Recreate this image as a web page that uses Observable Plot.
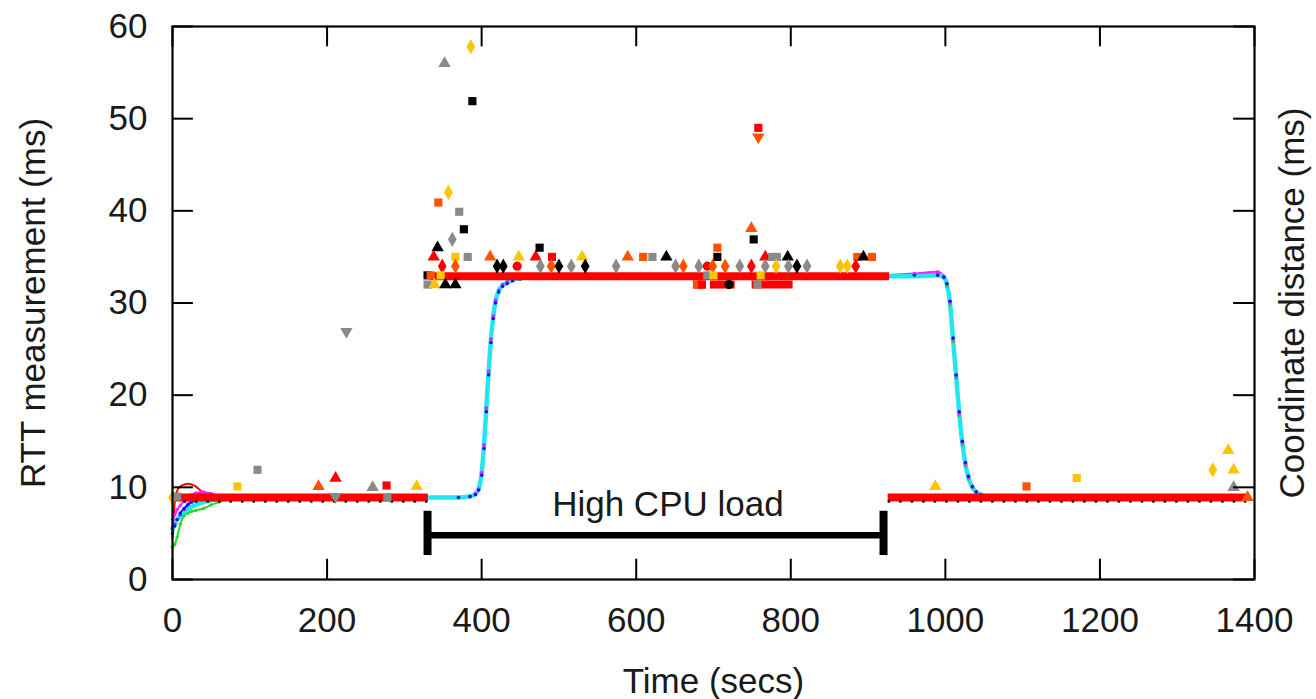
<!DOCTYPE html>
<html><head><meta charset="utf-8">
<script src="https://cdn.jsdelivr.net/npm/d3@7"></script>
<script src="https://cdn.jsdelivr.net/npm/@observablehq/plot@0.6"></script>
<style>body{margin:0;background:#fff} #chart svg{display:block}</style>
</head><body><div id="chart"></div>
<script>
// ---- axes ----
const xTicks = [0, 200, 400, 600, 800, 1000, 1200, 1400];
const yTicks = [0, 10, 20, 30, 40, 50, 60];
const xLabel = "Time (secs)";
const yLabel = "RTT measurement (ms)";
const y2Label = "Coordinate distance (ms)";

// ---- coordinate distance curves (per node) ----
const coordTime = [0, 3, 6, 10, 15, 20, 25, 30, 40, 50, 60, 80, 120, 200, 300, 370, 385, 392, 396, 400, 403, 406, 409, 412, 415, 418, 422, 427, 433, 440, 450, 470, 500, 600, 700, 800, 900, 960, 990, 998, 1002, 1006, 1010, 1014, 1018, 1022, 1026, 1030, 1035, 1040, 1046, 1052];
const coordRed     = [4.5, 8.5, 9.6, 10.1, 10.3, 10.4, 10.3, 10.1, 9.4, 9.1, 9.0, 9.0, 8.95, 8.9, 8.9, 8.9, 9.0, 9.3, 9.8, 11.5, 14.5, 18.5, 22.5, 26.0, 28.5, 30.2, 31.3, 31.9, 32.2, 32.5, 32.7, 32.8, 32.9, 33.0, 33.0, 33.0, 33.0, 33.0, 33.0, 32.8, 32.0, 30.0, 26.0, 22.0, 18.0, 14.8, 12.5, 11.0, 10.0, 9.5, 9.2, 9.0];
const coordGreen   = [3.5, 3.8, 4.6, 6.0, 6.9, 7.2, 7.4, 7.5, 7.7, 8.1, 8.4, 8.8, 8.9, 8.9, 8.9, 8.9, 9.0, 9.3, 9.8, 11.4, 14.3, 18.3, 22.3, 25.8, 28.4, 30.1, 31.2, 31.9, 32.2, 32.5, 32.7, 32.8, 32.9, 33.0, 33.0, 33.0, 33.0, 33.0, 33.0, 32.7, 31.8, 29.8, 25.8, 21.8, 17.8, 14.6, 12.3, 10.9, 9.9, 9.4, 9.1, 9.0];
const coordPurple  = [5.5, 6.0, 6.5, 7.0, 7.6, 8.2, 8.7, 9.1, 9.4, 9.3, 9.1, 9.0, 8.95, 8.9, 8.9, 8.9, 9.0, 9.3, 9.8, 11.6, 14.6, 18.6, 22.6, 26.1, 28.6, 30.3, 31.4, 32.0, 32.3, 32.6, 32.8, 32.9, 33.0, 33.0, 33.1, 33.0, 33.0, 33.1, 33.2, 32.9, 32.1, 30.1, 26.1, 22.1, 18.1, 14.9, 12.6, 11.1, 10.1, 9.5, 9.2, 9.0];
const coordMagenta = [6.5, 7.0, 7.6, 8.0, 8.5, 8.9, 9.2, 9.4, 9.5, 9.3, 9.1, 9.0, 8.95, 8.9, 8.9, 8.9, 9.0, 9.3, 9.8, 11.5, 14.5, 18.5, 22.5, 26.0, 28.5, 30.2, 31.3, 31.9, 32.2, 32.5, 32.7, 32.8, 32.9, 33.0, 33.0, 33.1, 33.0, 33.2, 33.4, 32.9, 32.0, 30.0, 26.0, 22.0, 18.0, 14.8, 12.5, 11.0, 10.0, 9.5, 9.2, 9.0];
const coordBlue    = [5.0, 5.8, 6.5, 7.2, 7.7, 8.1, 8.4, 8.6, 8.8, 8.9, 8.9, 8.9, 8.9, 8.9, 8.9, 8.9, 9.0, 9.2, 9.7, 11.3, 14.2, 18.2, 22.2, 25.7, 28.3, 30.0, 31.2, 31.8, 32.1, 32.4, 32.6, 32.8, 32.9, 33.0, 33.0, 33.0, 33.0, 33.0, 33.0, 32.8, 32.1, 30.2, 26.2, 22.2, 18.2, 15.0, 12.7, 11.2, 10.1, 9.5, 9.2, 9.0];
const coordCyan    = [5.5, 6.0, 6.5, 6.8, 7.2, 7.6, 7.9, 8.1, 8.4, 8.6, 8.7, 8.85, 8.9, 8.9, 8.9, 8.9, 9.0, 9.3, 9.8, 11.5, 14.5, 18.5, 22.5, 26.0, 28.5, 30.2, 31.3, 31.9, 32.2, 32.5, 32.7, 32.8, 32.8, 32.8, 32.8, 32.8, 32.9, 32.9, 33.0, 32.8, 32.0, 30.0, 26.0, 22.0, 18.0, 14.8, 12.5, 11.0, 10.0, 9.5, 9.2, 9.0];

// ---- RTT measurements: dense runs of samples (start, end, level) ----
const rttRunStart = [0, 335, 926, 674, 696, 750];
const rttRunEnd   = [331, 928, 1390, 690, 728, 803];
const rttRunLevel = [8.9, 32.9, 8.9, 32.0, 32.0, 32.0];
const rttLowStart = [0, 926];
const rttLowEnd   = [331, 1390];
const rttLowLevel = [8.45, 8.45];

// ---- RTT outlier samples ----
const outT = [386, 352, 388, 357, 344, 371, 377, 362, 343, 338, 366, 382, 411, 448, 470, 475, 491, 530, 349, 366, 420, 428, 446, 476, 490, 500, 516, 534, 330, 334, 347, 330, 339, 353, 366, 225,
  589, 609, 621, 639, 705, 705, 758, 758, 749, 752, 767, 776, 782, 796, 886, 894, 905,
  574, 651, 661, 681, 692, 699, 715, 734, 749, 767, 781, 797, 808, 821, 864, 873, 884,
  679, 685, 757, 761, 692, 700, 720,
  110, 84, 189, 211, 259, 277, 316, 0, 6, 211, 278,
  987, 1105, 1170, 1366, 1346, 1373, 1373, 1391];
const outV = [57.8, 56.0, 51.9, 42.0, 40.9, 39.9, 38.0, 36.9, 36.0, 35.0, 35.0, 35.0, 35.0, 35.0, 35.0, 36.0, 35.0, 35.0, 34.0, 34.0, 34.0, 34.0, 34.0, 34.0, 34.0, 34.0, 34.0, 34.0, 33.0, 33.0, 33.0, 32.0, 32.0, 32.0, 32.0, 26.9,
  35.0, 35.0, 35.0, 35.0, 36.0, 35.0, 49.0, 48.0, 38.1, 36.9, 35.0, 35.0, 35.0, 35.0, 35.0, 35.0, 35.0,
  34.0, 34.0, 34.0, 34.0, 34.0, 34.0, 34.0, 34.0, 34.0, 34.0, 34.0, 34.0, 34.0, 34.0, 34.0, 34.0, 34.0,
  32.0, 32.0, 32.0, 33.0, 33.0, 33.0, 32.0,
  11.9, 10.1, 10.1, 11.0, 10.0, 10.2, 10.1, 8.9, 9.0, 9.0, 8.9,
  10.1, 10.1, 11.0, 14.0, 11.9, 11.9, 10.0, 8.9];
const outNode = ["C", "D", "E", "C", "B", "D", "E", "D", "E", "A", "C", "D", "B", "C", "A", "E", "A", "C", "A", "B", "E", "E", "A", "D", "B", "E", "D", "E", "E", "B", "C", "D", "C", "E", "E", "D",
  "B", "B", "D", "E", "B", "E", "A", "B", "B", "E", "A", "D", "D", "E", "B", "E", "B",
  "D", "D", "B", "D", "A", "B", "B", "D", "A", "D", "C", "D", "E", "D", "C", "C", "A",
  "B", "A", "D", "C", "D", "C", "E",
  "D", "C", "B", "A", "D", "A", "C", "C", "D", "D", "D",
  "C", "B", "C", "C", "C", "C", "D", "B"];
const outKind = [3, 2, 1, 3, 1, 1, 1, 3, 2, 2, 1, 1, 2, 2, 2, 1, 1, 2, 3, 3, 3, 3, 4, 3, 3, 3, 3, 3, 1, 1, 1, 1, 2, 2, 2, 5,
  2, 1, 1, 2, 1, 1, 1, 5, 2, 1, 2, 1, 1, 2, 1, 2, 1,
  3, 3, 3, 3, 4, 3, 3, 3, 3, 3, 3, 3, 3, 3, 3, 3, 3,
  1, 1, 1, 1, 1, 1, 4,
  1, 1, 2, 2, 2, 1, 2, 3, 1, 5, 1,
  2, 1, 1, 2, 3, 2, 2, 2];

// ---- annotation ----
const cpuStart = 330, cpuEnd = 920, cpuLevel = 4.8, cpuCapLow = 2.6, cpuCapHigh = 7.4;
const cpuText = "High CPU load", cpuTextX = 641, cpuTextY = 8.1;

// ---- build tables ----
const coordSeries = [
  {name: "red", values: coordRed},
  {name: "green", values: coordGreen},
  {name: "purple", values: coordPurple},
  {name: "magenta", values: coordMagenta},
  {name: "blue", values: coordBlue},
  {name: "cyan", values: coordCyan}
];
const seriesColor = {red: "#ff0000", green: "#22dd22", purple: "#9a2bff", magenta: "#ff22ff", blue: "#1010ff", cyan: "#22e6f0"};
const coordRows = s => coordTime.map((t, i) => ({t, v: s.values[i]}));
const runs = rttRunStart.map((s, i) => ({s, e: rttRunEnd[i], v: rttRunLevel[i]}));
const lows = rttLowStart.map((s, i) => ({s, e: rttLowEnd[i], v: rttLowLevel[i]}));
const outliers = outT.map((t, i) => ({t, v: outV[i], node: outNode[i], kind: outKind[i]}));

const font = "Liberation Sans, Arial, Helvetica, sans-serif";
const fs = 35;

const marks = [];
for (const s of coordSeries.filter(d => d.name !== "cyan")) {
  marks.push(Plot.line(coordRows(s), {x: "t", y: "v", stroke: seriesColor[s.name], strokeWidth: 2, curve: "monotone-x"}));
}
marks.push(Plot.line(coordRows(coordSeries[5]), {x: "t", y: "v", stroke: seriesColor.cyan, strokeWidth: 4.5, curve: "monotone-x"}));
for (const s of coordSeries.filter(d => ["blue", "magenta", "purple", "green"].includes(d.name))) {
  marks.push(Plot.dot(coordRows(s), {x: "t", y: "v", fill: seriesColor[s.name], r: 1.7}));
}
marks.push(Plot.ruleY(runs, {y: "v", x1: "s", x2: "e", stroke: "#ff0000", strokeWidth: 8}));
marks.push(Plot.ruleY(lows, {y: "v", x1: "s", x2: "e", stroke: "#111", strokeWidth: 2.5, strokeDasharray: "2.5,9"}));
marks.push(Plot.dot(outliers, {x: "t", y: "v", fill: "node", symbol: "kind", r: 4.6, stroke: null,
  rotate: d => d.kind === 5 ? 180 : 0}));
marks.push(Plot.ruleY([cpuLevel], {y: d => d, x1: cpuStart, x2: cpuEnd, stroke: "black", strokeWidth: 6.5}));
marks.push(Plot.ruleX([cpuStart, cpuEnd], {x: d => d, y1: cpuCapLow, y2: cpuCapHigh, stroke: "black", strokeWidth: 8}));
marks.push(Plot.text([cpuText], {x: cpuTextX, y: cpuTextY, text: d => d, fontSize: fs, fill: "#1a1a1a", textAnchor: "middle"}));
marks.push(Plot.frame({stroke: "black", strokeWidth: 2.2}));
marks.push(Plot.ruleX(xTicks, {x: d => d, y1: 0, y2: 2.2, stroke: "black", strokeWidth: 2}));
marks.push(Plot.ruleX(xTicks, {x: d => d, y1: 57.8, y2: 60, stroke: "black", strokeWidth: 2}));
marks.push(Plot.ruleY(yTicks, {y: d => d, x1: 0, x2: 27, stroke: "black", strokeWidth: 2}));
marks.push(Plot.ruleY(yTicks, {y: d => d, x1: 1373, x2: 1400, stroke: "black", strokeWidth: 2}));
marks.push(Plot.axisX(xTicks, {tickSize: 0, tickPadding: 28, fontSize: fs, label: null, tickFormat: d => String(d), fill: "#1a1a1a"}));
marks.push(Plot.axisY(yTicks, {tickSize: 0, tickPadding: 25, fontSize: fs, label: null, tickFormat: d => String(d), fill: "#1a1a1a"}));
marks.push(Plot.text([xLabel], {frameAnchor: "bottom", text: d => d, dy: 89, lineAnchor: "top", textAnchor: "middle", fontSize: fs, fill: "#1a1a1a"}));
marks.push(Plot.text([yLabel], {frameAnchor: "left", text: d => d, dx: -139, rotate: -90, textAnchor: "middle", lineAnchor: "middle", fontSize: fs, fill: "#1a1a1a"}));
marks.push(Plot.text([y2Label], {frameAnchor: "right", text: d => d, dx: 38, rotate: -90, textAnchor: "middle", lineAnchor: "middle", fontSize: fs, fill: "#1a1a1a"}));

const chart = Plot.plot({
  width: 1316, height: 699,
  marginLeft: 172, marginRight: 62, marginTop: 26, marginBottom: 120,
  style: {fontFamily: font, background: "white", overflow: "visible"},
  x: {domain: [0, 1400], axis: null},
  y: {domain: [0, 60], axis: null},
  color: {domain: ["A", "B", "C", "D", "E"], range: ["#ff0000", "#ff5200", "#ffc400", "#8a8a8a", "#000000"]},
  symbol: {domain: [1, 2, 3, 4, 5], range: ["square", "triangle", "diamond", "circle", "triangle"]},
  marks
});
document.getElementById("chart").appendChild(chart);
</script>
</body></html>
